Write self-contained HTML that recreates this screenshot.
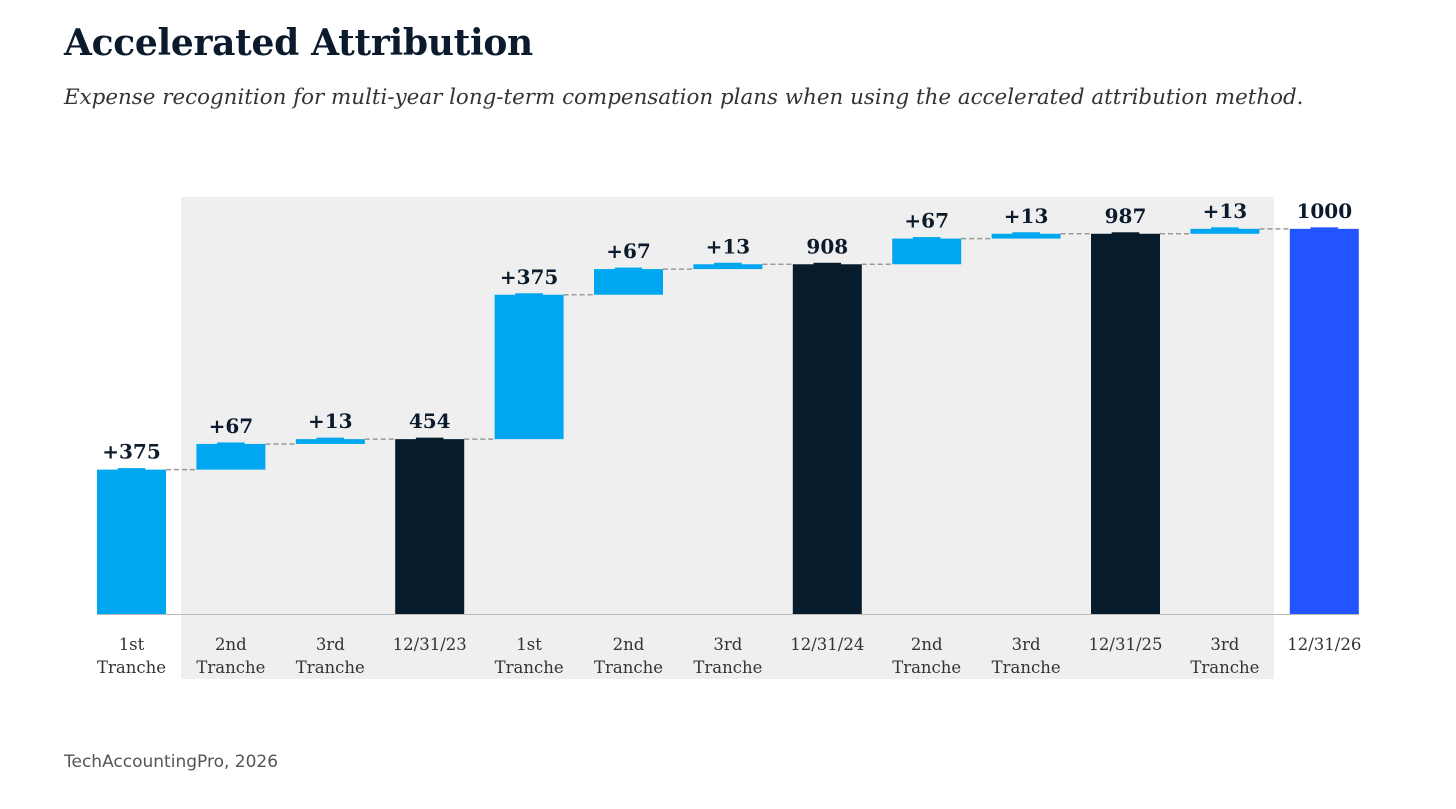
<!DOCTYPE html>
<html><head><meta charset="utf-8"><style>
body{margin:0;background:#fff;width:1456px;height:809px;overflow:hidden;position:relative;font-family:"DejaVu Serif",serif}
h1{position:absolute;left:64px;top:22px;margin:0;font-size:36px;font-weight:bold;color:#0b1a2c;letter-spacing:-0.3px;white-space:nowrap}
.sub{position:absolute;left:64px;top:85px;font-size:21.4px;font-style:italic;color:#333;white-space:nowrap}
.src{position:absolute;left:64px;top:752px;font-family:"DejaVu Sans",sans-serif;font-size:17px;color:#555}
</style></head><body>
<h1>Accelerated Attribution</h1>
<div class="sub">Expense recognition for multi-year long-term compensation plans when using the accelerated attribution method.</div>
<svg id="c" width="1456" height="809" style="position:absolute;left:0;top:0"></svg>
<div class="src">TechAccountingPro, 2026</div>
<script>
const cats1=["1st","2nd","3rd","12/31/23","1st","2nd","3rd","12/31/24","2nd","3rd","12/31/25","3rd","12/31/26"];
const cats2=["Tranche","Tranche","Tranche","","Tranche","Tranche","Tranche","","Tranche","Tranche","","Tranche",""];
const values=[375,66.7,12.5,0,375,66.7,12.5,0,66.7,12.5,0,12.8,0];
const isTotal=[false,false,false,true,false,false,false,true,false,false,true,false,true];
const printed=["+375","+67","+13","454","+375","+67","+13","908","+67","+13","987","+13","1000"];
const NS="http://www.w3.org/2000/svg",svg=document.getElementById('c');
const y0=614,k=0.385,x0=131.5,step=99.4,bw=69;
const y=v=>y0-v*k, xc=i=>x0+i*step;
function el(t,a){const e=document.createElementNS(NS,t);for(const n in a)e.setAttribute(n,a[n]);svg.appendChild(e);return e;}
const bg=el('rect',{x:181,y:197,width:1093,height:482,fill:'#efefef'});


const ax=el('line',{x1:97,x2:1359,y1:y0+0.5,y2:y0+0.5,stroke:'#bbb','stroke-width':1});


let cum=0;
for(let i=0;i<cats1.length;i++){
  let lo,hi,col;
  if(isTotal[i]){lo=0;hi=cum;col=i==cats1.length-1?'#2255ff':'#061c2c';}
  else{lo=cum;hi=cum+values[i];cum=hi;col='#00a6f0';}
  const x=xc(i)-bw/2;
  const r=el('rect',{x:x,y:y(hi),width:bw,height:Math.max(y(lo)-y(hi),2),fill:col});
  
  
  el('rect',{x:x+bw*0.3,y:y(hi)-1.5,width:bw*0.4,height:2,fill:col});
  const t=el('text',{x:xc(i),y:y(hi)-11,'text-anchor':'middle','font-size':20,'font-weight':'bold',fill:'#0b1a2c','font-family':'DejaVu Serif, serif'});
  t.textContent=printed[i];
  
  
  if(i<cats1.length-1){
    const c=el('line',{x1:x+bw,x2:xc(i+1)-bw/2,y1:y(cum),y2:y(cum),stroke:'#999','stroke-width':1.5,'stroke-dasharray':'5,3'});
    
    
  }
  const l=el('text',{'text-anchor':'middle','font-size':16.5,fill:'#333','font-family':'DejaVu Serif, serif'});
  
  
  const a=document.createElementNS(NS,'tspan');a.setAttribute('x',xc(i));a.setAttribute('y',650);a.textContent=cats1[i];l.appendChild(a);
  if(cats2[i]){const b=document.createElementNS(NS,'tspan');b.setAttribute('x',xc(i));b.setAttribute('y',673);b.textContent=cats2[i];l.appendChild(b);}
}
</script>
</body></html>
